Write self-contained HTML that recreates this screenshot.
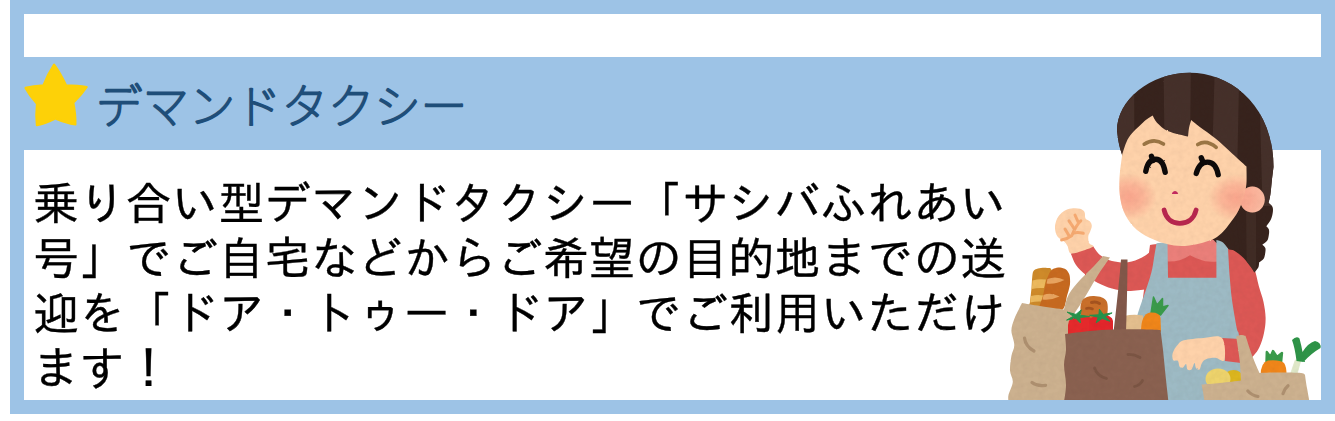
<!DOCTYPE html>
<html lang="ja">
<head>
<meta charset="utf-8">
<title>デマンドタクシー</title>
<style>
html,body{margin:0;padding:0;background:#fff;}
body{width:1335px;height:421px;position:relative;overflow:hidden;}
#frame{position:absolute;left:10px;top:0;width:1325px;height:414px;background:#9dc3e6;}
.white{position:absolute;background:#fff;left:24px;width:1297px;}
#w1{top:14px;height:43px;}
#w2{top:150px;height:250px;}
#title{position:absolute;left:0;top:0;margin:0;width:700px;height:150px;font-size:0;line-height:0;}
#title svg{display:block;}
#title text{font-family:"Liberation Sans","Noto Sans CJK JP",sans-serif;font-size:46.4px;font-weight:100;fill:#1f4e79;stroke:#1f4e79;stroke-width:2.3px;stroke-linejoin:round;stroke-linecap:round;}
#body{position:absolute;left:33.3px;top:181px;margin:0;font:normal 46px/55px "Liberation Mono","IPAGothic","Noto Sans CJK JP",monospace;letter-spacing:0.35px;color:#000;white-space:nowrap;will-change:transform;-webkit-text-stroke:0.36px #000;}
#star,#art{position:absolute;left:0;top:0;}
</style>
</head>
<body>
<div id="frame"></div>
<div class="white" id="w1"></div>
<div class="white" id="w2"></div>
<svg id="star" width="120" height="140" viewBox="0 0 120 140"><path d="M54.1 64.7Q60.4 73.3 66.0 85.3Q77.8 85.3 86.7 87.0Q81.7 94.6 73.3 102.7Q75.7 114.7 75.4 124.5Q66.0 123.1 55.3 118.5Q45.5 123.4 36.9 125.1Q35.7 115.5 37.0 103.7Q29.6 95.6 25.5 87.9Q33.0 85.8 43.4 85.3Q48.3 73.4 54.1 64.7Z" fill="#fdd108" stroke="#fdd108" stroke-width="2.2" stroke-linejoin="round"/></svg>
<h1 id="title"><svg width="700" height="150" viewBox="0 0 700 150"><text x="96" y="122.6">デマンドタクシー</text></svg></h1>
<p id="body">乗り合い型デマンドタクシー「サシバふれあい<br>号」でご自宅などからご希望の目的地までの送<br>迎を「ドア・トゥー・ドア」でご利用いただけ<br>ます！</p>
<svg id="art" width="1335" height="421" viewBox="0 0 1335 421">
<defs>
<radialGradient id="cheek"><stop offset="0" stop-color="#f9a18a" stop-opacity="0.9"/><stop offset="0.5" stop-color="#f9a18a" stop-opacity="0.6"/><stop offset="1" stop-color="#f9a18a" stop-opacity="0"/></radialGradient>
<clipPath id="hairclip"><path d="M1117 131C1117 100 1150 72.8 1190 72.8C1230 72.8 1273.5 105 1273.5 167C1273.2 169.3 1272.3 176.4 1271.8 181C1271.3 185.6 1271 190.6 1270.4 194.3C1269.9 198 1268.8 201.6 1268.5 203C1269.1 203.6 1271.6 205.1 1272.3 206.5C1273 207.9 1273.1 209.4 1272.9 211.5C1272.7 213.6 1272.1 216.7 1271 219.2C1269.9 221.7 1267.1 225.1 1266.3 226.3C1266.7 226.8 1268.5 228.1 1268.9 229.5C1269.3 230.9 1269.2 232.7 1268.9 234.5C1268.6 236.3 1268.4 238.9 1267.3 240.6C1266.2 242.3 1263.1 244.1 1262.3 244.8C1262.8 245.3 1264.8 246.7 1265.3 248C1265.8 249.3 1265.5 250.8 1265.3 252.5C1265 254.2 1264.8 256.8 1263.8 258.4C1262.8 260 1260 261.6 1259.2 262.2C1259 263.1 1259.1 265.8 1258.3 267.5C1257.5 269.2 1255.1 271.6 1254.4 272.4C1253.6 271.2 1251.9 268.2 1249.7 265.5C1247.5 262.8 1244.8 259 1241.4 256C1238 253 1233.9 250.4 1229.5 247.7C1225.1 245 1217.4 241.3 1215 240C1209.2 238.3 1192.5 236.7 1180 230C1167.5 223.3 1149.8 212.8 1140 200C1130.2 187.2 1125.3 164.5 1121.5 153C1117.7 141.5 1117.8 134.7 1117 131Z"/></clipPath>
<clipPath id="faceclip"><path d="M1122.3 154C1123.4 151.2 1125.4 142.7 1128.8 137.5C1132.2 132.3 1138.8 126.4 1142.8 122.7C1146.8 119 1151 116.8 1152.7 115.6C1153.4 116.8 1154.4 120.1 1157 122.7C1159.6 125.3 1163.2 129 1168.4 131.3C1173.6 133.6 1184.7 135.7 1188 136.6C1188.2 135.2 1188.5 130.8 1189 128C1189.5 125.2 1190.8 121.3 1191.2 120C1192.6 121.2 1195.8 123.9 1199.8 127C1203.8 130.1 1210.5 134.4 1215.5 138.5C1220.5 142.6 1224.8 146.7 1230 151.4C1235.2 156.1 1243.8 164 1246.5 166.5C1246.4 169.9 1247.1 180.2 1246 187C1244.9 193.8 1242.4 201.3 1240 207C1237.6 212.7 1235.2 216.3 1231.4 221.3C1227.6 226.3 1223.2 233.1 1217 237C1210.8 240.9 1201.2 243.3 1194 244.7C1186.8 246.1 1180.6 246.3 1174 245.5C1167.4 244.7 1160.4 242.4 1154.2 239.8C1148 237.2 1141.8 234 1137 230C1132.2 226 1128.5 220.8 1125.7 215.6C1122.9 210.3 1121.3 204.7 1120.3 198.5C1119.3 192.3 1119.2 185.9 1119.5 178.5C1119.8 171.1 1121.8 158.1 1122.3 154Z"/><ellipse cx="1252.4" cy="199.6" rx="12.4" ry="13"/></clipPath>
<filter id="rough" x="990" y="60" width="345" height="345" filterUnits="userSpaceOnUse" color-interpolation-filters="sRGB">
<feTurbulence type="fractalNoise" baseFrequency="0.7" numOctaves="2" seed="3" result="n"/>
<feDisplacementMap in="SourceGraphic" in2="n" scale="1.5" xChannelSelector="R" yChannelSelector="G" result="d"/>
<feTurbulence type="fractalNoise" baseFrequency="0.18" numOctaves="2" seed="11" result="t"/>
<feColorMatrix in="t" type="matrix" values="0 0 0 0 0.25  0 0 0 0 0.15  0 0 0 0 0.1  0 0 0 -0.08 0.052" result="ta"/>
<feComposite in="ta" in2="d" operator="in" result="tex"/>
<feMerge><feMergeNode in="d"/><feMergeNode in="tex"/></feMerge>
</filter>
<clipPath id="artclip"><rect x="990" y="0" width="345" height="400"/></clipPath>
</defs>
<g clip-path="url(#artclip)"><g filter="url(#rough)">
<path d="M1150 245C1156.7 244.2 1176.3 240.5 1190 240C1203.7 239.5 1225 241.7 1232 242C1234.2 244.2 1241.3 250.7 1245 255C1248.7 259.3 1251.7 262.8 1254 268C1256.3 273.2 1257.2 280.3 1258.8 286C1260.4 291.7 1262.4 296.7 1263.5 302C1264.6 307.3 1265.5 312.8 1265.6 318C1265.7 323.2 1265 328.2 1264 333C1263 337.8 1261.2 343.3 1259.5 347C1257.8 350.7 1256 352.9 1253.7 355.4C1251.5 357.9 1247.3 360.9 1246 362L1225 362L1222 338L1140 320L1150 245Z" fill="#dc5855"/>
<path d="M1093.2 246.3C1094.3 247.8 1096.9 252.6 1100 255C1103.1 257.4 1107.3 259.8 1112 261C1116.7 262.2 1123 262.9 1128 262.3C1133 261.7 1137.7 259.7 1142 257.5C1146.3 255.3 1152 250.4 1154 249C1155 252.5 1161.3 263.3 1160 270C1158.7 276.7 1148.3 286.1 1146 289.3C1143 289.6 1133.7 291.1 1128 291C1122.3 290.9 1117 289.8 1112 288.5C1107 287.2 1102.3 285.2 1098 283C1093.7 280.8 1089.7 278 1086 275C1082.3 272 1078.5 268.6 1076 265C1073.5 261.4 1071.7 255.4 1070.8 253.5L1093.2 246.3Z" fill="#dc5855"/>
<path d="M1166 239L1218 239L1218 261.4Q1206 262.5 1200.6 259.8Q1194 257.5 1190 255.2Q1186 258 1179.6 260.3Q1174 261.8 1166 261.4Z" fill="#ea7f7a"/>
<path d="M1117 131C1117 100 1150 72.8 1190 72.8C1230 72.8 1273.5 105 1273.5 167C1273.2 169.3 1272.3 176.4 1271.8 181C1271.3 185.6 1271 190.6 1270.4 194.3C1269.9 198 1268.8 201.6 1268.5 203C1269.1 203.6 1271.6 205.1 1272.3 206.5C1273 207.9 1273.1 209.4 1272.9 211.5C1272.7 213.6 1272.1 216.7 1271 219.2C1269.9 221.7 1267.1 225.1 1266.3 226.3C1266.7 226.8 1268.5 228.1 1268.9 229.5C1269.3 230.9 1269.2 232.7 1268.9 234.5C1268.6 236.3 1268.4 238.9 1267.3 240.6C1266.2 242.3 1263.1 244.1 1262.3 244.8C1262.8 245.3 1264.8 246.7 1265.3 248C1265.8 249.3 1265.5 250.8 1265.3 252.5C1265 254.2 1264.8 256.8 1263.8 258.4C1262.8 260 1260 261.6 1259.2 262.2C1259 263.1 1259.1 265.8 1258.3 267.5C1257.5 269.2 1255.1 271.6 1254.4 272.4C1253.6 271.2 1251.9 268.2 1249.7 265.5C1247.5 262.8 1244.8 259 1241.4 256C1238 253 1233.9 250.4 1229.5 247.7C1225.1 245 1217.4 241.3 1215 240C1209.2 238.3 1192.5 236.7 1180 230C1167.5 223.3 1149.8 212.8 1140 200C1130.2 187.2 1125.3 164.5 1121.5 153C1117.7 141.5 1117.8 134.7 1117 131Z" fill="#37231d"/>
<path d="M1210 236L1236 220L1240 251L1229 249.5L1223.5 244L1216.4 243Z" fill="#37231d"/>
<g clip-path="url(#hairclip)" fill="#45302a">
<path d="M1116 60L1134 60L1134.5 160L1116 160Z"/>
<path d="M1163.5 60L1191 60L1190 150L1164.5 150Z"/>
<path d="M1215 60L1239.5 60L1237 180L1211.5 180Z"/>
<path d="M1258.5 60L1276 60L1276 206L1262.5 206Z"/>
<path d="M1246 204L1256 204L1256 290L1247 290Z" opacity="0.7"/>
</g>
<path d="M1156.5 243.2L1167.5 242L1168 277.8L1216.4 277.8L1216.4 240C1217.5 240.4 1221.1 241.1 1223 242.5C1224.9 243.9 1227.2 247.6 1228 248.6C1228.3 253.3 1229 268 1229.7 276.6C1230.4 285.2 1230.8 291.4 1232 300C1233.2 308.6 1235.5 321.3 1236.7 328C1238 334.7 1238.5 327.7 1239.5 340C1240.5 352.3 1242.4 391.7 1243 402L1125 402C1126 391.7 1128.8 354.8 1131 340C1133.2 325.2 1135.5 321.2 1138 313C1140.5 304.8 1143.5 297.4 1145.7 290.6C1148 283.8 1150.1 277.4 1151.5 272C1152.9 266.6 1153.2 262.8 1154 258C1154.8 253.2 1156.1 245.7 1156.5 243.2Z" fill="#9dbac4"/>
<path d="M1222 338L1240 339L1241 363L1225 361Z" fill="#dc5855"/>
<ellipse cx="1252.4" cy="199.6" rx="12.4" ry="13" fill="#fbbba2"/>
<path d="M1122.3 154C1123.4 151.2 1125.4 142.7 1128.8 137.5C1132.2 132.3 1138.8 126.4 1142.8 122.7C1146.8 119 1151 116.8 1152.7 115.6C1153.4 116.8 1154.4 120.1 1157 122.7C1159.6 125.3 1163.2 129 1168.4 131.3C1173.6 133.6 1184.7 135.7 1188 136.6C1188.2 135.2 1188.5 130.8 1189 128C1189.5 125.2 1190.8 121.3 1191.2 120C1192.6 121.2 1195.8 123.9 1199.8 127C1203.8 130.1 1210.5 134.4 1215.5 138.5C1220.5 142.6 1224.8 146.7 1230 151.4C1235.2 156.1 1243.8 164 1246.5 166.5C1246.4 169.9 1247.1 180.2 1246 187C1244.9 193.8 1242.4 201.3 1240 207C1237.6 212.7 1235.2 216.3 1231.4 221.3C1227.6 226.3 1223.2 233.1 1217 237C1210.8 240.9 1201.2 243.3 1194 244.7C1186.8 246.1 1180.6 246.3 1174 245.5C1167.4 244.7 1160.4 242.4 1154.2 239.8C1148 237.2 1141.8 234 1137 230C1132.2 226 1128.5 220.8 1125.7 215.6C1122.9 210.3 1121.3 204.7 1120.3 198.5C1119.3 192.3 1119.2 185.9 1119.5 178.5C1119.8 171.1 1121.8 158.1 1122.3 154Z" fill="#fed2aa"/>
<g clip-path="url(#faceclip)"><ellipse cx="1129" cy="197" rx="28" ry="24" fill="url(#cheek)"/>
<ellipse cx="1236" cy="198" rx="28" ry="24" fill="url(#cheek)"/></g>
<path d="M1144.2 144.2Q1154.2 137.5 1163.5 144" fill="none" stroke="#9b7645" stroke-width="3.6" stroke-linecap="round"/>
<path d="M1197.7 144.5Q1206.5 139 1216.2 147.4" fill="none" stroke="#9b7645" stroke-width="3.6" stroke-linecap="round"/>
<g fill="none" stroke="#0d0a0a" stroke-width="5.4" stroke-linecap="round">
<path d="M1145.8 171.3C1147 165 1150 159.3 1156 159.3C1161.5 159.3 1164 165.5 1165.2 172.3"/>
<path d="M1151.5 156.3L1153 160.5"/>
<path d="M1196.3 173.4C1198 167 1201.5 162.1 1207.5 162.1C1214 162.1 1217 168.5 1218.2 174.7"/>
<path d="M1201.3 157.8L1203 162.3"/>
</g>
<path d="M1172.5 193.3Q1175 190 1177.5 193.3Z" fill="#c32a60" stroke="#c32a60" stroke-width="1.2" stroke-linejoin="round"/>
<path d="M1164.1 210C1166 219 1172.5 223.3 1179.8 223.3C1187.5 223.3 1194 219 1196.1 210" fill="none" stroke="#b8274f" stroke-width="4.8" stroke-linecap="round"/>
<path d="M1073.3 208.3C1075.6 208.1 1078.1 208.2 1080 208.8C1081.9 209.4 1083.6 210.4 1084.5 212C1085.4 213.6 1084.6 216.9 1085.5 218.5C1086.4 220.1 1089 220.2 1090 221.5C1091 222.8 1091.8 224.2 1091.8 226C1091.8 227.8 1090.6 230.3 1090 232C1089.4 233.7 1088.5 234.2 1088.3 236C1088.1 237.8 1088.2 241.2 1089 243C1089.8 244.8 1094.4 245.3 1093.2 246.6C1092 247.9 1085.7 249.9 1082 251C1078.3 252.1 1073.2 254.2 1070.8 253.4C1068.4 252.6 1068.6 248 1067.5 246C1066.4 244 1065.7 243.1 1064 241.5C1062.3 239.9 1059 238.8 1057.5 236.6C1056 234.4 1055.2 231.1 1055 228.3C1054.8 225.5 1055.6 222.4 1056.5 220C1057.4 217.6 1058.9 215.7 1060.5 214C1062.1 212.3 1063.9 210.9 1066 210C1068.1 209.1 1071 208.5 1073.3 208.3Z" fill="#fed2aa"/>
<g fill="none" stroke="#f6aa72" stroke-width="3" stroke-linecap="round" stroke-linejoin="round">
<path d="M1080.8 220.8C1077 224 1074.5 229 1071.6 235.8C1068 238.5 1065 239.5 1061.6 240"/>
<path d="M1075 215L1078.3 222.3"/>
<path d="M1069 220.8L1074 228.3"/>
<path d="M1065 229L1069.5 236.5"/>
<path d="M1073.5 233Q1078 232 1083.3 233.3"/>
</g>
<path d="M1033 272C1033.9 269.4 1036.1 269 1038 268.5C1039.9 268 1045.1 267.5 1047 268C1048.9 268.5 1051.3 266.4 1052 272C1052.7 277.6 1055.1 304.9 1052 310C1048.9 315.1 1031.9 311.1 1029 310C1026.1 308.9 1029.7 304.9 1030 302C1030.3 299.1 1031.1 292 1031.5 288C1031.9 284 1032.1 274.6 1033 272Z" fill="#ce8a2a"/>
<path d="M1032.5 280.5Q1039 278.5 1046 279.5L1044 288Q1038 287.5 1031.8 289Z" fill="#ecb95e"/>
<path d="M1031 296Q1037 294.5 1043 295.5L1042 301.5Q1036 301 1030.3 302.5Z" fill="#ecb95e"/>
<path d="M1050 272C1051.1 270.2 1052.7 269.1 1054 268.5C1055.3 267.9 1058.4 267.3 1060 267.4C1061.6 267.5 1064.7 268.5 1066 269.5C1067.3 270.5 1069 273.1 1069.5 275C1070 276.9 1070.3 281.2 1070 284C1069.7 286.8 1068.1 292.5 1067 296C1065.9 299.5 1065.6 308.1 1062 310C1058.4 311.9 1042.5 311.9 1040 310C1037.5 308.1 1042.2 299.7 1043 296C1043.8 292.3 1045.1 285.2 1046 282C1046.9 278.8 1048.9 273.8 1050 272Z" fill="#c76a20"/>
<path d="M1047.5 279Q1056 275.5 1064.5 280Q1056 284.5 1046.5 283.5Z" fill="#e9a560"/>
<path d="M1043.5 295Q1051 292 1059.5 296.5Q1051 300.5 1042.5 299.5Z" fill="#e9a560"/>
<path d="M1022 303C1025 303.5 1033 304.9 1040 306C1047 307.1 1060 308.9 1064 309.5C1064.8 306.9 1066.3 298.9 1069 294C1071.7 289.1 1075.8 284.7 1080 280C1084.2 275.3 1090.2 270 1094 266C1097.8 262 1101.5 257.7 1103 256L1110 257.5C1108 260.4 1101.7 269.2 1098 275C1094.3 280.8 1091 287 1088 292C1085 297 1082.7 300.7 1080 305C1077.3 309.3 1073.7 313.8 1072 318C1070.3 322.2 1070.3 328 1070 330L1070 402L1008.5 402C1008.5 400.8 1007.8 398.3 1008.5 395C1009.2 391.7 1012.5 386.1 1012.8 382C1013 377.9 1010.2 374.8 1010 370.5C1009.8 366.2 1010.7 360.2 1011.4 356C1012.1 351.8 1014.3 349.2 1014.3 345C1014.3 340.8 1011.4 334.9 1011.4 330.6C1011.4 326.3 1013 322.6 1014.3 319C1015.6 315.4 1017.7 311.7 1019 309C1020.3 306.3 1021.5 304 1022 303Z" fill="#ccb18f"/>
<g fill="none" stroke="#ae9070" stroke-width="3.2" stroke-linecap="round">
<path d="M1024.5 338Q1025.5 346.5 1034 351"/>
<path d="M1032 382.5Q1037 386.5 1045.6 385.3"/>
</g>
<path d="M1082 301C1083.1 298.8 1085 297.8 1087 297C1089 296.2 1091.5 295.9 1094 296C1096.5 296.1 1099.8 296.5 1102 297.5C1104.2 298.5 1106.1 299.6 1107 302C1107.9 304.4 1108 309 1107.5 312C1107 315 1107.9 318.7 1104 320C1100.1 321.3 1087.9 321.7 1084 320C1080.1 318.3 1080.8 313.2 1080.5 310C1080.2 306.8 1080.9 303.2 1082 301Z" fill="#c96f2a"/>
<path d="M1091.5 302.5Q1095.5 301 1099.5 303.5" fill="none" stroke="#a5531f" stroke-width="3" stroke-linecap="round"/>
<path d="M1086.5 308.5Q1089.5 307.5 1092.5 309" fill="none" stroke="#a5531f" stroke-width="2.6" stroke-linecap="round"/>
<path d="M1068 336L1068 325Q1068.5 316 1080 315.5Q1090 315 1092 320L1092 336Z" fill="#e62a2c"/>
<path d="M1089 336L1089 321Q1092 314.5 1102 314.5Q1112 315 1113 321L1113 336Z" fill="#e3262b"/>
<path d="M1081.3 309.8L1080 315.2L1089.5 316.5L1079.8 317.5L1080.4 322.9L1075.8 318.2L1066.6 320.1L1073.4 316.2L1067.1 312.1L1076 314.4Z" fill="#25934a" stroke="#25934a" stroke-width="1" stroke-linejoin="round"/>
<path d="M1099.4 309.2L1103.1 314.4L1112.1 312.9L1105.1 316.6L1110.1 321.3L1102.1 318.4L1096.2 322.8L1098.3 317.3L1089.6 315.3L1098.9 314.8Z" fill="#25934a" stroke="#25934a" stroke-width="1" stroke-linejoin="round"/>
<path d="M1124 316Q1133 314 1143 315.5L1143 332L1124 332Z" fill="#e3be8e"/>
<path d="M1151 313L1153.5 297L1157 305L1162.5 298.5L1162.5 307L1168 305.5L1160.5 315Z" fill="#3a9b4b" stroke="#3a9b4b" stroke-width="1.5" stroke-linejoin="round"/>
<path d="M1141 332Q1141 314 1150 312.5Q1160 312 1160.5 318L1161 332Z" fill="#f0861a"/>
<path d="M1121 259.5L1127.5 259.5Q1127.5 285 1126 332L1113.5 332Q1118.5 290 1121 259.5Z" fill="#82584a"/>
<path d="M1065 334C1069.2 333.5 1082 331.8 1090 331C1098 330.2 1104.7 329.8 1113 329.5C1121.3 329.2 1132.1 329.2 1140 329.3C1147.9 329.4 1157.1 329.9 1160.5 330C1160.9 333.3 1162.2 342.5 1163 350C1163.8 357.5 1164.6 366.3 1165.5 375C1166.4 383.7 1168 397.5 1168.5 402L1064 402C1064.3 399.2 1066 391.2 1066 385C1066 378.8 1064 370.8 1064 365C1064 359.2 1065.8 355.2 1066 350C1066.2 344.8 1065.2 336.7 1065 334Z" fill="#8a6150"/>
<g fill="none" stroke="#7b5544" stroke-width="2.8" stroke-linecap="round">
<path d="M1094.5 368Q1097 376 1106.5 378.5"/>
<path d="M1128 354.5Q1134 354 1140 357.5"/>
<path d="M1134.5 386.5Q1140.5 385 1142.5 380.5"/>
</g>
<path d="M1183.8 340.3C1188.1 339.2 1197.2 338.4 1203.6 338C1210 337.6 1218.5 334.3 1222 338C1225.5 341.7 1225.6 356.7 1224.5 360C1223.4 363.3 1218.3 357.9 1215.2 357.8C1212.1 357.7 1208.2 358.3 1206 359.2C1203.8 360.1 1203.1 361.3 1202 363C1200.9 364.7 1200.5 368.7 1199.5 369.5C1198.5 370.3 1196.8 369.1 1196 368C1195.2 366.9 1195.2 362.8 1194.5 363C1193.8 363.2 1192.7 368.4 1191.5 369.5C1190.3 370.6 1188.4 370.4 1187.5 369.5C1186.6 368.6 1186.8 364.3 1186 364C1185.2 363.7 1184.1 367.1 1183 367.5C1181.9 367.9 1180.3 367.6 1179.5 366.5C1178.7 365.4 1179 362 1178 361C1177 360 1174.5 361.4 1173.5 360.5C1172.5 359.6 1172.2 357.2 1172.3 355.5C1172.4 353.8 1173 351.8 1174 350C1175 348.2 1176.4 346.1 1178 344.5C1179.6 342.9 1179.5 341.4 1183.8 340.3Z" fill="#fed2aa"/>
<ellipse cx="1233.5" cy="377" rx="9" ry="7" fill="#dcb61f"/>
<ellipse cx="1218" cy="379" rx="12.5" ry="10.5" fill="#edd36c"/>
<path d="M1266.5 362L1266.8 352L1270.5 357L1273 351L1277 357L1282 353L1281 363Z" fill="#3a9b4b" stroke="#3a9b4b" stroke-width="2.4" stroke-linejoin="round"/>
<path d="M1260.5 378Q1260 362.5 1268 360.5Q1280 359.5 1284 363Q1287 367 1286.5 378Z" fill="#f0861a"/>
<path d="M1289.8 376L1295.3 360L1300.6 361L1296.5 376Z" fill="#dfe8c8" stroke="#dfe8c8" stroke-width="0.8" stroke-linejoin="round"/>
<path d="M1296.5 361Q1295 348 1292 340Q1296.5 335.5 1299.5 338.5Q1301.5 346 1302.5 352Q1308 343 1315 341Q1321.5 342.5 1320.5 348Q1311 353.5 1303.5 362Z" fill="#2e9448"/>
<path d="M1236.2 336.5C1236.9 336.2 1239 335.1 1240.5 335C1242 334.9 1244.7 335.7 1245.5 335.8C1246.7 339.3 1250.2 350.4 1252.5 356.6C1254.8 362.8 1258.3 370.3 1259.5 373C1262.9 372.9 1273.1 372.5 1280 372.5C1286.9 372.5 1296.8 372.6 1301 373C1305.2 373.4 1304.3 374.7 1305 375C1305.3 377.2 1306.2 383.5 1307 388C1307.8 392.5 1309.1 399.7 1309.5 402L1204.5 402C1204.2 400.3 1203.5 394.9 1203 392C1202.5 389.1 1201.8 385.8 1201.5 384.5C1204.6 384.2 1213.4 383.7 1220 383C1226.6 382.3 1237.5 380.9 1241 380.5C1240.8 377.2 1240.5 368.3 1239.7 361C1238.9 353.7 1236.8 340.6 1236.2 336.5Z" fill="#ccb18f"/>
<g fill="none" stroke="#ae9070" stroke-width="3.2" stroke-linecap="round">
<path d="M1247.8 391Q1251.5 395.3 1258 396.5"/>
<path d="M1288 385.8Q1284.2 389 1283 393.6"/>
</g>
</g></g>
</svg>
</body>
</html>
